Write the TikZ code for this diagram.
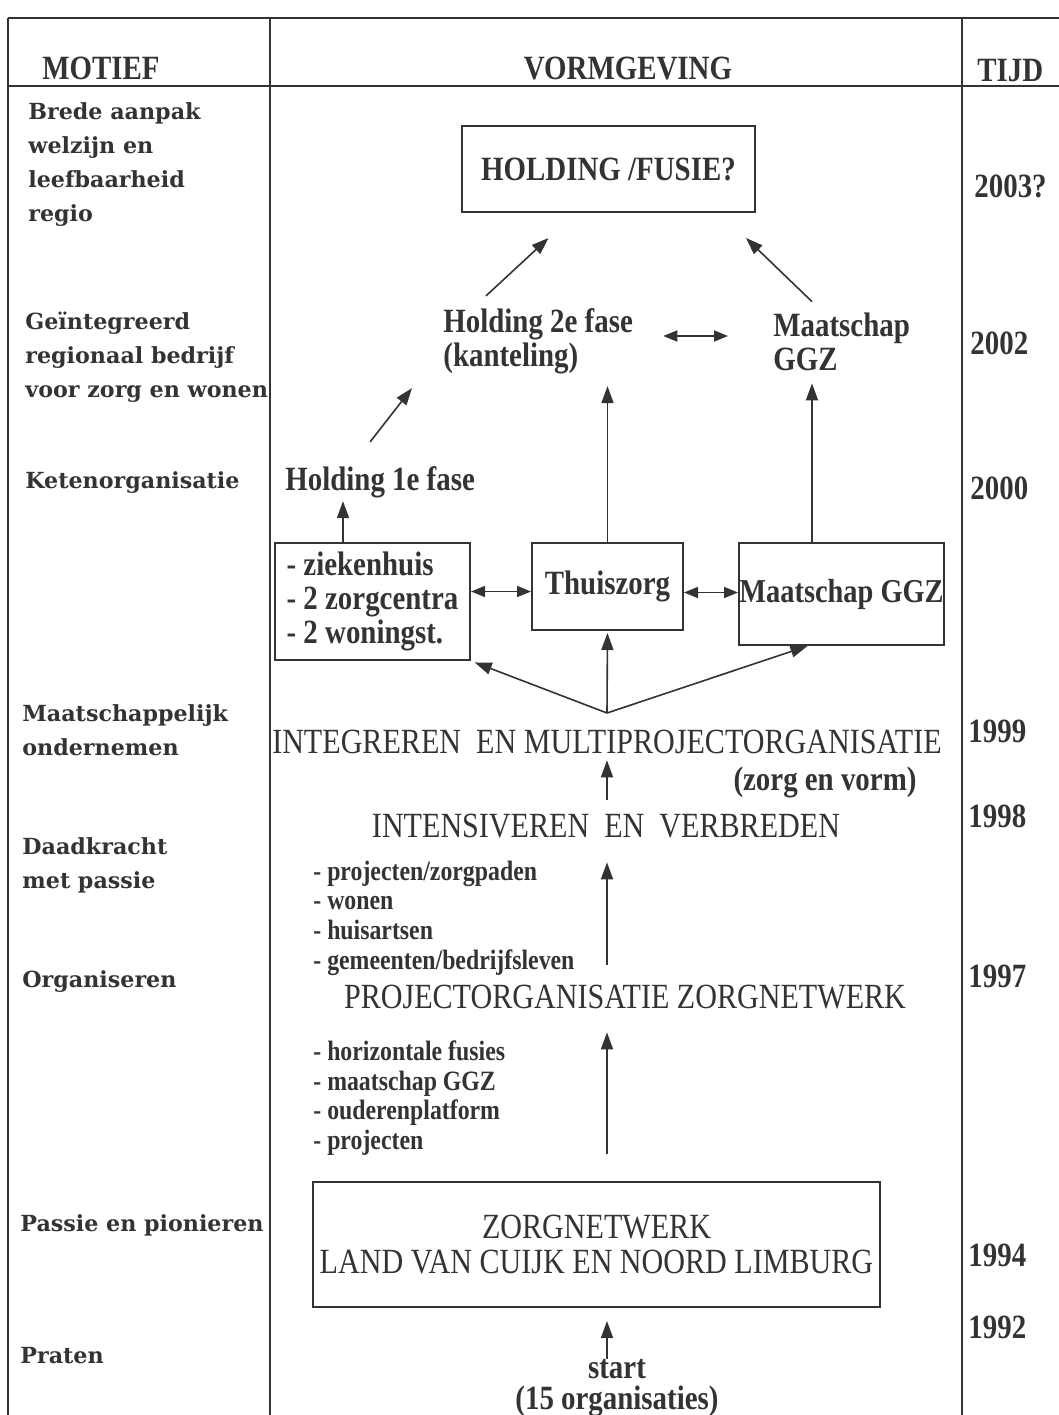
\documentclass[tikz,border=0pt]{standalone}
\usepackage{fontspec}
\setmainfont[FakeStretch=0.85]{Liberation Serif}
\newfontfamily\motfont{DejaVu Serif}
\usepackage{tikz}
\usetikzlibrary{arrows.meta}
\definecolor{ink}{gray}{0.2}
\tikzset{box/.style     = {draw=ink, line width=1pt},
         lbl/.style     = {inner sep=0pt, text=ink, font=\fontsize{17}{17}\selectfont\bfseries},
         sml/.style     = {inner sep=0pt, text=ink, align=left, anchor=west, font=\fontsize{14}{14.8}\selectfont\bfseries},
         big/.style     = {inner sep=0pt, text=ink, font=\fontsize{17.7}{17.5}\selectfont},
         mot/.style     = {inner sep=0pt, text=ink, align=left, anchor=north west, font=\motfont\fontsize{11.1}{17}\selectfont\bfseries},
         yr/.style      = {inner sep=0pt, text=ink, anchor=west, font=\fontsize{17}{17}\selectfont\bfseries},
         tabline/.style = {draw=ink, line width=0.8pt},
         arr/.style     = {draw=ink, line width=0.8pt, -{Triangle[length=8.5pt,width=6pt]}},
         dbl/.style     = {draw=ink, line width=0.8pt, {Triangle[length=7pt,width=5.5pt]}-{Triangle[length=7pt,width=5.5pt]}}}

\begin{document}
\begin{tikzpicture}[x=0.5pt, y=-0.5pt]
    \useasboundingbox (0, 0) rectangle (1059, 1415);

    % table
    \draw [tabline] (8, 18)   -- (1059, 18);
    \draw [tabline] (8, 86)   -- (1059, 86);
    \draw [tabline] (8, 18)   -- (8, 1415);
    \draw [tabline] (270, 18) -- (270, 1415);
    \draw [tabline] (962, 18) -- (962, 1415);

    \node [yr]  (mh) at ( 42, 68) {MOTIEF};
    \node [lbl] (vh) at (628, 68) {VORMGEVING};
    \node [yr]  (th) at (977, 71) {TIJD};

    % motief
    \node [mot] (m1) at (28, 102)  {Brede aanpak\\welzijn en\\leefbaarheid\\regio};
    \node [mot] (m2) at (25, 312)  {Geïntegreerd\\regionaal bedrijf\\voor zorg en wonen};
    \node [mot] (m3) at (25, 471)  {Ketenorganisatie};
    \node [mot] (m4) at (22, 704)  {Maatschappelijk\\ondernemen};
    \node [mot] (m5) at (22, 837)  {Daadkracht\\met passie};
    \node [mot] (m6) at (22, 970)  {Organiseren};
    \node [mot] (m7) at (20, 1214) {Passie en pionieren};
    \node [mot] (m8) at (20, 1347) {Praten};

    % tijd
    \node [yr] (y1) at (974, 186)  {2003?};
    \node [yr] (y2) at (970, 343)  {2002};
    \node [yr] (y3) at (970, 488)  {2000};
    \node [yr] (y4) at (968, 731)  {1999};
    \node [yr] (y5) at (968, 816)  {1998};
    \node [yr] (y6) at (968, 976)  {1997};
    \node [yr] (y7) at (968, 1255) {1994};
    \node [yr] (y8) at (968, 1327) {1992};

    % vormgeving
    \node [box, lbl, minimum width=146.5pt, minimum height=43pt] (hf) at (608.5, 169) {HOLDING /FUSIE?};
    \node [lbl, align=left, anchor=west] (h2) at (443, 341) {Holding 2e fase\\(kanteling)};
    \node [lbl, align=left, anchor=west] (mg) at (773, 342) {Maatschap\\GGZ};
    \node [lbl, anchor=west]             (h1) at (285, 482) {Holding 1e fase};

    \node [box, lbl, align=left, minimum width=97.5pt, minimum height=58.5pt] (zh) at (372.5, 601.5) {- ziekenhuis\\- 2 zorgcentra\\- 2 woningst.};
    \node [box, lbl, minimum width=75.5pt, minimum height=43.5pt]  (tz)  at (607.5, 586.5) {Thuiszorg};
    \node [box, lbl, minimum width=102.5pt, minimum height=51pt,
           font=\fontsize{16.7}{17}\selectfont\bfseries]           (mgb) at (841.5, 594)   {Maatschap GGZ};

    \coordinate (fan) at (607, 713);
    \coordinate (ax)  at (607, 0);
    \node [big] (int) at (607, 742) {INTEGREREN\ \ EN MULTIPROJECTORGANISATIE};
    \node [lbl] (zv)  at (825, 782) {(zorg en vorm)};
    \node [big] (ive) at (606, 826) {INTENSIVEREN\ \ EN\ \ VERBREDEN};
    \node [sml] (l1)  at (313, 918) {- projecten/zorgpaden\\- wonen\\- huisartsen\\- gemeenten/bedrijfsleven};
    \node [big] (poz) at (625, 997) {PROJECTORGANISATIE ZORGNETWERK};
    \node [sml] (l2)  at (313, 1098) {- horizontale fusies\\- maatschap GGZ\\- ouderenplatform\\- projecten};
    \node [box, big, align=center, minimum width=283.5pt, minimum height=62.5pt] (zn) at (596.5, 1244.5) {ZORGNETWERK\\LAND VAN CUIJK EN NOORD LIMBURG};
    \node [lbl, align=center, font=\fontsize{17}{15.5}\selectfont\bfseries] (st) at (617, 1388) {start\\(15 organisaties)};

    % arrows
    \draw [arr, shorten >=6.5pt]                    (st.north -| ax)  -- (zn.south -| ax);
    \draw [arr, shorten <=13.5pt, shorten >=11.5pt] (zn.north -| ax)  -- (poz.south -| ax);
    \draw [arr, shorten <=10pt, shorten >=12pt]     (poz.north -| ax) -- (ive.south -| ax);
    \draw [arr, shorten <=7pt, shorten >=3pt]       (ive.north -| ax) -- (int.south -| ax);

    \draw [arr, shorten >=2pt] (fan) -- (zh.south east);
    \draw [arr, shorten >=1pt] (fan) -- (tz.south);
    \draw [arr]                (fan) -- ([xshift=-17pt]mgb.south);
    \draw [dbl] ([yshift=5pt]zh.east)  -- ([yshift=5pt]zh.east -| tz.west);
    \draw [dbl] ([yshift=-3pt]tz.east) -- ([yshift=-3pt]tz.east -| mgb.west);

    \draw [arr, shorten >=1.5pt] ([xshift=-14.75pt]zh.north)  -- ([xshift=-14.75pt]zh.north |- h1.south);
    \draw [arr, shorten >=6pt]   (tz.north)                   -- (tz.north |- h2.south);
    \draw [arr, shorten >=6pt]   ([xshift=-14.75pt]mgb.north) -- ([xshift=-14.75pt]mgb.north |- mg.south);

    \draw [arr] ([shift={(-5pt,12pt)}]h1.north)        -- ([shift={(-15.5pt,-7pt)}]h2.south west);
    \draw [arr] ([shift={(21.5pt,6pt)}]h2.north west)  -- ([shift={(-30pt,-12.5pt)}]hf.south);
    \draw [arr] ([shift={(19.5pt,5.5pt)}]mg.north west) -- ([shift={(-5pt,-12.5pt)}]hf.south east);
    \draw [dbl, shorten <=15pt, shorten >=22.5pt] ([yshift=2.5pt]h2.east) -- ([yshift=2.5pt]h2.east -| mg.west);
\end{tikzpicture}
\end{document}
